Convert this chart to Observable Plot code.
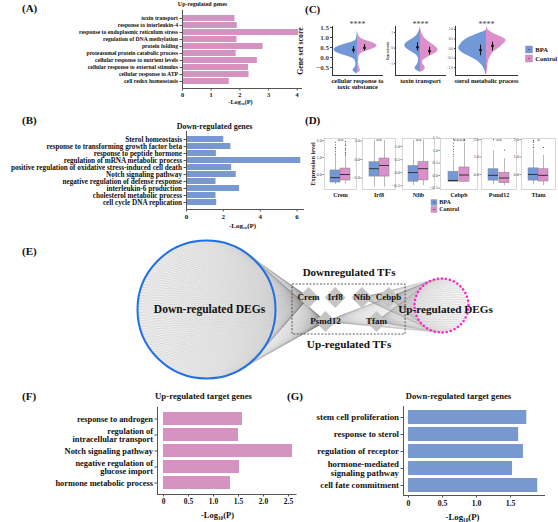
<!DOCTYPE html>
<html><head><meta charset="utf-8">
<script src="https://cdn.jsdelivr.net/npm/d3@7"></script>
<script src="https://cdn.jsdelivr.net/npm/@observablehq/plot@0.6"></script>
<style>
body{margin:0;background:#fff;}
#fig{position:relative;width:558px;height:522px;overflow:hidden;font-family:"Liberation Serif","Times New Roman",serif;font-weight:bold;color:#111;}
.lab{position:absolute;font-size:11px;font-weight:bold;line-height:13px;}
</style></head><body><div id="fig"></div>
<script>
// ---------------- DATA ----------------
// (A) Up-regulated genes
const upTerms = ["toxin transport","response to interleukin-4","response to endoplasmic reticulum stress","regulation of DNA methylation","protein folding","proteasomal protein catabolic process","cellular response to nutrient levels","cellular response to external stimulus","cellular response to ATP","cell redox homeostasis"];
const upVals = [1.83,1.91,4.05,1.9,2.81,1.87,2.61,2.3,2.32,1.63];
// (B) Down-regulated genes
const downTerms = ["Sterol homeostasis","response to transforming growth factor beta","response to peptide hormone","regulation of mRNA metabolic process","positive regulation of oxidative stress-induced cell death","Notch signaling pathway","negative regulation of defense response","interleukin-6 production","cholesterol metabolic process","cell cycle DNA replication"];
const downVals = [2.02,2.41,1.62,6.2,2.45,2.7,1.6,2.88,1.6,1.64];
// (F) Up-regulated target genes
const fTerms = ["response to androgen","regulation of\nintracellular transport","Notch signaling pathway","negative regulation of\nglucose import","hormone metabolic process"];
const fVals = [1.58,1.5,2.58,1.52,1.34];
// (G) Down-regulated target genes
const gTerms = ["stem cell proliferation","response to sterol","regulation of receptor","hormone-mediated\nsignaling pathway","cell fate commitment"];
const gVals = [1.74,1.62,1.69,1.53,1.9];

// (C) split violins: [score, density] profiles
const groups = ["BPA","Control"];
const vNames = ["cellular response to\ntoxic substance","toxin transport","sterol metabolic process"];
const vSig = ["****","****","****"];
const v1Blue = [[1.38,0],[1.1,0.5],[0.9,1],[0.8,3],[0.7,10],[0.6,17],[0.5,22],[0.4,24],[0.3,23],[0.2,19],[0.1,13],[0.0,6],[-0.1,2.5],[-0.25,1.5],[-0.45,1.5],[-0.55,3.5],[-0.65,5],[-0.75,3],[-0.82,0]];
const v1Pink = [[1.3,0],[1.1,1],[0.95,3],[0.85,8],[0.75,15],[0.65,19],[0.55,20],[0.45,17],[0.35,11],[0.25,5],[0.15,2],[0.0,1.2],[-0.3,1],[-0.5,1.5],[-0.6,3],[-0.7,3],[-0.78,0]];
const v2Blue = [[1.4,0],[1.1,1],[0.9,2.5],[0.7,5],[0.5,10],[0.35,14],[0.2,16],[0.05,15.5],[-0.1,13],[-0.3,7],[-0.45,4],[-0.6,2],[-0.9,1.8],[-1.1,3.5],[-1.25,6],[-1.4,5],[-1.55,0]];
const v2Pink = [[1.3,0],[1.0,1],[0.7,3],[0.45,7],[0.2,13],[0.0,17],[-0.15,18],[-0.3,16],[-0.45,11],[-0.6,7],[-0.75,3],[-0.9,1.5],[-1.05,2.5],[-1.2,5],[-1.35,5],[-1.5,2],[-1.55,0]];
const v3Blue = [[0.95,0],[0.9,2],[0.8,7],[0.65,14],[0.55,19],[0.4,23],[0.28,25],[0.1,27.5],[0.0,28],[-0.1,27],[-0.23,24],[-0.35,20],[-0.5,14],[-0.65,9],[-0.75,7],[-0.9,4],[-1.0,3],[-1.15,1.5],[-1.3,1],[-1.38,0]];
const v3Pink = [[1.15,0],[1.05,1],[0.95,2],[0.8,6],[0.7,10],[0.6,15],[0.5,19],[0.4,20],[0.28,18],[0.15,15],[0.02,13],[-0.1,9],[-0.23,6],[-0.5,3],[-0.75,1.5],[-1.0,1],[-1.25,0.6],[-1.38,0]];
// mean and range per violin: [BPA, Control]
const vMean = [[0.38,0.48],[0.05,-0.2],[-0.08,0.13]];
const vLo = [[0.22,0.33],[-0.2,-0.45],[-0.38,-0.13]];
const vHi = [[0.55,0.65],[0.35,0.05],[0.18,0.33]];
const vTicks = [[-0.5,0,0.5,1,1.5],[-1,0,1],[-1,-0.5,0,0.5,1]];

// (D) box plots
const genes = ["Crem","Irf8","Nfib","Cebpb","Psmd12","Tfam"];
const dSig = ["**","**","**","****","**","*"];
const bpaLo  = [-0.6,-3.0,-0.5,-0.25,-0.6,-0.6];
const bpaQ1  = [-0.47,-1.85,-0.35,-0.25,-0.35,-0.35];
const bpaMed = [-0.18,-1.0,0.0,-0.2,-0.05,0.0];
const bpaQ3  = [0.24,-0.3,0.25,0.15,0.3,0.35];
const bpaHi  = [1.12,2.05,1.25,0.65,1.35,1.4];
const ctlLo  = [-0.53,-3.0,-0.5,-0.25,-0.65,-0.65];
const ctlQ1  = [-0.35,-1.85,-0.3,-0.25,-0.5,-0.4];
const ctlMed = [0.0,-0.65,0.15,0.02,-0.2,-0.05];
const ctlQ3  = [0.35,0.1,0.4,0.32,0.1,0.3];
const ctlHi  = [1.0,2.05,1.25,1.3,0.9,1.1];
const bpaOut = [[1.2,1.35,1.5,1.6,1.75,1.9],[],[],[0.75,0.85,0.95,1.05,1.15,1.3,1.45],[2.0],[1.55,1.7,1.85,1.95]];
const ctlOut = [[1.1,1.2,1.3,1.45,1.55,1.7,1.8,1.95],[],[],[1.4,1.45],[1.4],[1.55]];
const dTicks = [[0,1,2],[-2,0,2],[-0.5,0,0.5,1],[-0.5,0,0.5,1,1.5],[0,1,2],[0,1,2]];

// (E) regulatory network
const tfDown = ["Crem","Irf8","Nfib","Cebpb"];
const tfUp = ["Psmd12","Tfam"];
const nDownDEG = 150, nUpDEG = 60;
const downDEGLinks = ["Crem","Psmd12"];
const upDEGLinks = ["Nfib","Cebpb","Tfam","Psmd12"];

// ---------------- STYLE / HELPERS ----------------
const BLUE_BAR = "#7898d0", PINK_BAR = "#d592c0";
const BLUE = "#7398d8", PINK = "#dc8fcb";
const FONT = "'Liberation Serif','Times New Roman',serif";
const SVGSTYLE = `font-family:${FONT};font-weight:bold;background:none;overflow:visible;color:#111;`;
const fig = document.getElementById("fig");
function place(node, left, top){ node.style.position="absolute"; node.style.left=left+"px"; node.style.top=top+"px"; fig.appendChild(node); return node; }
function label(t, left, top){ const d=document.createElement("div"); d.className="lab"; d.textContent=t; d.style.left=left+"px"; d.style.top=top+"px"; fig.appendChild(d); }
const fmt1 = d => d === 0 ? "0" : d3.format(".1f")(d);

function barChart(o){
  const data = o.terms.map((t,i)=>({t, v:o.vals[i]}));
  return Plot.plot({
    width:o.width, height:o.height, marginLeft:o.mL, marginRight:o.mR, marginTop:o.mT, marginBottom:o.mB,
    style: SVGSTYLE,
    x:{domain:o.xdom}, y:{domain:o.terms, padding:o.padding},
    marks:[
      Plot.barX(data,{x1:0, x2:"v", y:"t", fill:o.color}),
      Plot.frame({anchor:"left", stroke:"#555"}),
      Plot.frame({anchor:"bottom", stroke:"#555"}),
      Plot.axisX({ticks:o.ticks, tickFormat:o.tickFmt, tickSize:2.5, tickPadding:2, fontSize:o.tickSize, label:null, stroke:"#555"}),
      Plot.axisY({tickSize:2.5, tickPadding:2, fontSize:o.labelSize, label:null, lineHeight:1, stroke:"#555"}),
      Plot.text([o.title],{text:d=>d, frameAnchor:"top-left", textAnchor:"middle", lineAnchor:"middle", dx:o.titleDx, dy:o.titleDy, fontSize:o.titleSize}),
      Plot.text(["-Log₁₀(P)"],{text:d=>d, frameAnchor:"bottom-left", textAnchor:"middle", lineAnchor:"middle", dx:o.axDx, dy:o.axDy, fontSize:o.axSize})
    ]
  });
}

// (A)
place(barChart({terms:upTerms, vals:upVals, color:PINK_BAR, width:308, height:108, mL:182, mR:7, mT:10, mB:20, padding:0.15,
  xdom:[0,4.15], ticks:[0,1,2,3,4], tickFmt:d3.format("d"), tickSize:6.3, labelSize:5.7,
  title:"Up-regulated genes", titleSize:6, titleDx:20, titleDy:-6, axDx:58, axDy:13, axSize:6.3}), 0, 0);
// (B)
place(barChart({terms:downTerms, vals:downVals, color:BLUE_BAR, width:308, height:110, mL:186, mR:5, mT:13, mB:19, padding:0.15,
  xdom:[0,6.35], ticks:[0,2,4,6], tickFmt:d3.format("d"), tickSize:7, labelSize:7.2,
  title:"Down-regulated genes", titleSize:8, titleDx:28, titleDy:-5, axDx:56, axDy:16, axSize:7}), 0, 118);
// (F)
place(barChart({terms:fTerms, vals:fVals, color:PINK_BAR, width:300, height:137, mL:157, mR:4.5, mT:22, mB:28, padding:0.18,
  xdom:[-0.12,2.65], ticks:[0,0.5,1,1.5,2,2.5], tickFmt:fmt1, tickSize:7.5, labelSize:8.4,
  title:"Up-regulated target genes", titleSize:8.8, titleDx:46, titleDy:-11, axDx:60, axDy:21, axSize:8.5}), 0, 385);
// (G)
place(barChart({terms:gTerms, vals:gVals, color:BLUE_BAR, width:273, height:137, mL:118, mR:14, mT:21, mB:27, padding:0.18,
  xdom:[-0.074,2.0], ticks:[0,0.5,1,1.5], tickFmt:fmt1, tickSize:7.8, labelSize:8.8,
  title:"Down-regulated target genes", titleSize:8.6, titleDx:55, titleDy:-10, axDx:59, axDy:22, axSize:8.8}), 285, 385);

// (C) violins
function violin(o){
  const pts = groups.map((g,j)=>({g, dx:o.off[j], m:vMean[o.i][j], lo:vLo[o.i][j], hi:vHi[o.i][j]}));
  return Plot.plot({
    width:o.width, height:80, marginLeft:o.mL, marginRight:o.mR, marginTop:12, marginBottom:19,
    style:SVGSTYLE,
    x:{domain:o.xdom, axis:null}, y:{domain:o.ydom},
    marks:[
      Plot.areaX(o.blue,{y:d=>d[0], x1:d=>-d[1], x2:0, fill:BLUE, curve:"basis"}),
      Plot.areaX(o.pink,{y:d=>d[0], x1:0, x2:d=>d[1], fill:PINK, curve:"basis"}),
      Plot.ruleX(pts,{x:"dx", y1:"lo", y2:"hi", stroke:"#111", strokeWidth:1}),
      Plot.dot(pts,{x:"dx", y:"m", r:1.4, fill:"#111"}),
      Plot.frame({anchor:"left", stroke:"#333"}),
      Plot.frame({anchor:"bottom", stroke:"#333"}),
      Plot.axisY({ticks:vTicks[o.i], tickFormat:o.tfmt, tickSize:o.tsz, tickPadding:1.5, fontSize:o.tfont, fontWeight:o.tweight, label:null, fill:"#444", stroke:"#444"}),
      Plot.text([vSig[o.i]],{text:d=>d, frameAnchor:"top", lineAnchor:"middle", dy:-2, fontSize:8, fontWeight:"normal", fill:"#444"}),
      Plot.text([vNames[o.i]],{text:d=>d, frameAnchor:"bottom", lineAnchor:"top", dy:2.5, fontSize:6.3, lineHeight:1.05}),
      ...(o.ylab ? [Plot.text([o.ylab],{text:d=>d, x:o.xdom[0] - o.ylabOff, frameAnchor:"left", textAnchor:"middle", lineAnchor:"middle", rotate:-90, fontSize:o.ylabSize})] : [])
    ]
  });
}
place(violin({i:0, blue:v1Blue, pink:v1Pink, off:[-4,7], width:95, mL:42, mR:3, xdom:[-25,25], ydom:[-0.9,1.55],
  tfmt:d3.format(".1f"), tsz:2, tfont:7, tweight:"bold", ylab:"Gene set score", ylabOff:32, ylabSize:7.8}), 290, 14);
place(violin({i:1, blue:v2Blue, pink:v2Pink, off:[-3,9], width:70, mL:15, mR:5, xdom:[-25,25], ydom:[-1.75,1.375],
  tfmt:d3.format("d"), tsz:1, tfont:3.5, tweight:"normal", ylab:"Gene set score", ylabOff:7, ylabSize:3}), 380, 14);
place(violin({i:2, blue:v3Blue, pink:v3Pink, off:[-6,6], width:76, mL:10, mR:4, xdom:[-31,31], ydom:[-1.41,1.15],
  tfmt:d3.format(".1f"), tsz:1, tfont:3.5, tweight:"normal"}), 445, 14);

function legend(o){
  return Plot.plot({
    width:o.width, height:o.height, marginLeft:o.mL, marginRight:0, marginTop:0, marginBottom:0,
    style:SVGSTYLE,
    x:{domain:[0,1], axis:null}, y:{domain:groups, axis:null, type:"point", padding:0.5},
    color:{domain:groups, range:[BLUE, PINK]},
    marks:[
      Plot.dot(groups,{x:0, y:d=>d, symbol:"square", r:o.r, fill:d=>d, stroke:"#888", strokeWidth:0.4}),
      Plot.dot(groups,{x:0, y:d=>d, r:0.6, fill:"#222"}),
      Plot.text(groups,{x:0, y:d=>d, text:d=>d, dx:o.r*1.6, textAnchor:"start", fontSize:o.fs})
    ]
  });
}
place(legend({width:36, height:18, mL:4.5, r:3.9, fs:6.6}), 524, 43.5);

// (D) box plots
const dLeft = [324,362,402,440,481,521];
const dW = [32,33,32,37,35,34];
const dDom = [[-0.88,2.12],[-3.25,2.27],[-0.65,1.31],[-0.56,1.48],[-0.86,2.06],[-0.86,2.06]];
genes.forEach((gene,i)=>{
  const st = [
    {g:"BPA", lo:bpaLo[i], q1:bpaQ1[i], med:bpaMed[i], q3:bpaQ3[i], hi:bpaHi[i]},
    {g:"Control", lo:ctlLo[i], q1:ctlQ1[i], med:ctlMed[i], q3:ctlQ3[i], hi:ctlHi[i]}
  ];
  const outs = [...bpaOut[i].map(v=>({g:"BPA", v})), ...ctlOut[i].map(v=>({g:"Control", v}))];
  const mL = i === 0 ? 24 : 8;
  const svg = Plot.plot({
    width: mL + dW[i] + 1, height:71, marginLeft:mL, marginRight:1, marginTop:8, marginBottom:12,
    style:SVGSTYLE,
    x:{domain:groups, paddingInner:0.05, paddingOuter:0.6, axis:null},
    y:{domain:dDom[i]},
    color:{domain:groups, range:[BLUE, PINK]},
    marks:[
      Plot.frame({stroke:"#ccc", strokeWidth:0.8}),
      Plot.ruleX(st,{x:"g", y1:"lo", y2:"hi", stroke:"#8a8a8a", strokeWidth:0.6}),
      Plot.barY(st,{x:"g", y1:"q1", y2:"q3", fill:"g", stroke:"#8a8a8a", strokeWidth:0.6}),
      Plot.tickY(st,{x:"g", y:"med", stroke:"#333", strokeWidth:1}),
      Plot.dot(outs,{x:"g", y:"v", r:0.6, fill:"#555"}),
      Plot.axisY({ticks:dTicks[i], tickSize:1.5, tickPadding:1, fontSize:4.5, fontWeight:"normal", label:null, fill:"#444", stroke:"#888"}),
      Plot.text([dSig[i]],{text:d=>d, frameAnchor:"top", lineAnchor:"top", dy:0.5, fontSize:6, fontWeight:"normal", fill:"#555"}),
      Plot.text([gene],{text:d=>d, frameAnchor:"bottom", lineAnchor:"middle", dy:5.5, fontSize:6}),
      ...(i === 0 ? [Plot.text(["Expression level"],{text:d=>d, frameAnchor:"left", textAnchor:"middle", lineAnchor:"middle", rotate:-90, dx:-12, fontSize:6.3})] : [])
    ]
  });
  place(svg, dLeft[i] - mL, 130);
});
place(legend({width:30, height:15, mL:4.5, r:3.3, fs:6}), 428.5, 198);

// (E) network
const LAY = {big:{cx:106, cy:84, r:69}, pink:{cx:341, cy:80, r:27}, downRow:{x0:208, dx:26.7, y:72}, upRow:{x0:225, dx:51, y:96}};
const tfNodes = [
  ...tfDown.map((t,i)=>({name:t, x:LAY.downRow.x0 + i*LAY.downRow.dx, y:LAY.downRow.y})),
  ...tfUp.map((t,i)=>({name:t, x:LAY.upRow.x0 + i*LAY.upRow.dx, y:LAY.upRow.y}))
];
const tfMap = new Map(tfNodes.map(d=>[d.name,d]));
const ring = (c,n) => d3.range(n).map(i=>{ const a = 2*Math.PI*i/n; return {x:c.cx + c.r*Math.cos(a), y:c.cy + c.r*Math.sin(a)}; });
const downNodes = ring(LAY.big, nDownDEG), upNodes = ring(LAY.pink, nUpDEG);
const downLinks = downNodes.flatMap(p=>downDEGLinks.map(t=>({x1:p.x, y1:p.y, x2:tfMap.get(t).x, y2:tfMap.get(t).y})));
const upLinks = upNodes.flatMap(p=>upDEGLinks.map(t=>({x1:p.x, y1:p.y, x2:tfMap.get(t).x, y2:tfMap.get(t).y})));
const xs = tfNodes.map(d=>d.x), ys = tfNodes.map(d=>d.y);
const box = {x1:d3.min(xs)-16, x2:d3.max(xs)+17, y1:d3.min(ys)-13, y2:d3.max(ys)+13};
const E = Plot.plot({
  width:400, height:165, margin:0, style:SVGSTYLE,
  x:{domain:[0,400], range:[0,400], axis:null}, y:{domain:[0,165], range:[0,165], axis:null},
  marks:[
    Plot.dot([LAY.big],{x:"cx", y:"cy", r:LAY.big.r, fill:"#efefef", stroke:"none"}),
    Plot.link(downLinks,{x1:"x1", y1:"y1", x2:"x2", y2:"y2", stroke:"#666", strokeOpacity:0.18, strokeWidth:0.5}),
    Plot.link(upLinks,{x1:"x1", y1:"y1", x2:"x2", y2:"y2", stroke:"#888", strokeOpacity:0.22, strokeWidth:0.5}),
    Plot.dot([LAY.big],{x:"cx", y:"cy", r:LAY.big.r, fill:"none", stroke:"#1f6fe5", strokeWidth:2}),
    Plot.dot([LAY.pink],{x:"cx", y:"cy", r:LAY.pink.r, fill:"none", stroke:"#ff22cc", strokeWidth:2.5, strokeDasharray:"0.1,4", strokeLinecap:"round"}),
    Plot.rect([box],{x1:"x1", x2:"x2", y1:"y1", y2:"y2", fill:"none", stroke:"#333", strokeWidth:0.8, strokeDasharray:"2,1.5"}),
    Plot.dot(tfNodes,{x:"x", y:"y", symbol:"diamond2", r:9.5, fill:"#c4c4c4"}),
    Plot.text(tfNodes,{x:"x", y:"y", text:"name", fontSize:9}),
    Plot.text(["Down-regulated DEGs"],{text:d=>d, x:LAY.big.cx + 3, y:LAY.big.cy, fontSize:11.5}),
    Plot.text(["Up-regulated DEGs"],{text:d=>d, x:LAY.pink.cx + 4, y:LAY.pink.cy + 4, fontSize:11.2}),
    Plot.text(["Downregulated TFs"],{text:d=>d, x:(box.x1+box.x2)/2, y:box.y1, dy:-12, fontSize:11}),
    Plot.text(["Up-regulated TFs"],{text:d=>d, x:(box.x1+box.x2)/2, y:box.y2, dy:10, fontSize:11.2})
  ]
});
place(E, 100, 225);

// panel letters
label("(A)", 22, 2); label("(B)", 22, 114); label("(C)", 305, 3); label("(D)", 305, 114);
label("(E)", 22, 245); label("(F)", 22, 390); label("(G)", 287, 390);
</script></body></html>
